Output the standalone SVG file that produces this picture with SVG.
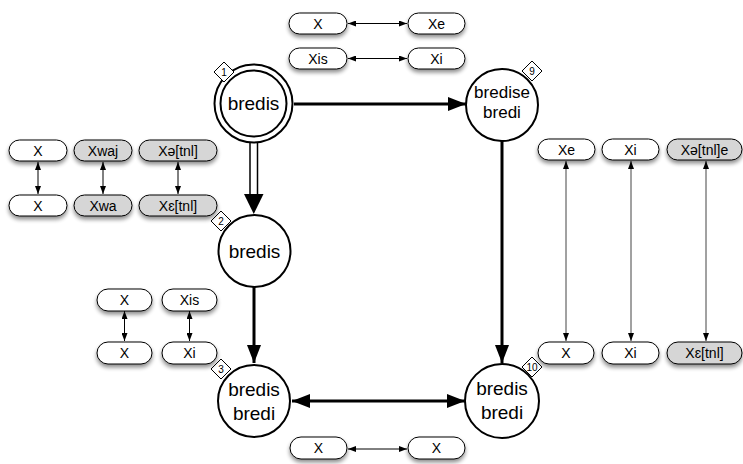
<svg xmlns="http://www.w3.org/2000/svg" width="743" height="464" viewBox="0 0 743 464">
<style>
.pill{stroke:#000;stroke-width:1;filter:url(#sh)}
.w{fill:#fff}
.g{fill:#d6d6d6}
.pt{font-family:"Liberation Sans",Arial,sans-serif;font-size:14px;text-anchor:middle;fill:#000}
.nt{font-family:"Liberation Sans",Arial,sans-serif;font-size:19px;text-anchor:middle;fill:#000}
.circ{fill:#fff;stroke:#000;stroke-width:2}
.dia{fill:#fff;stroke:#000;stroke-width:1}
.dt{font-family:"Liberation Sans",Arial,sans-serif;font-size:10px;text-anchor:middle;fill:#000}
.thin{stroke:#000;stroke-width:1;fill:none;marker-end:url(#ah);marker-start:url(#ah)}
.gthin{stroke:#444;stroke-width:1;fill:none;marker-end:url(#ah);marker-start:url(#ah)}
.thick{stroke:#000;stroke-width:3;fill:none;marker-end:url(#th)}
</style>
<defs>
<filter id="sh" x="-20%" y="-30%" width="140%" height="180%">
<feGaussianBlur in="SourceAlpha" stdDeviation="2"/>
<feOffset dx="0" dy="3" result="b"/>
<feComponentTransfer><feFuncA type="linear" slope="0.45"/></feComponentTransfer>
<feMerge><feMergeNode/><feMergeNode in="SourceGraphic"/></feMerge>
</filter>
<marker id="ah" viewBox="0 0 8 6" refX="8" refY="3" markerWidth="8" markerHeight="6" markerUnits="userSpaceOnUse" orient="auto-start-reverse"><path d="M0,0 L8,3 L0,6 z" fill="#000"/></marker>
<marker id="th" viewBox="0 0 18 14" refX="18" refY="7" markerWidth="18" markerHeight="14" markerUnits="userSpaceOnUse" orient="auto-start-reverse"><path d="M0,0 L18,7 L0,14 z" fill="#000"/></marker>
</defs>
<rect width="743" height="464" fill="#fff"/>

<g id="connectors">
<line class="thick" x1="294" y1="104" x2="466" y2="104"/>
<line x1="250" y1="143" x2="250" y2="195" stroke="#000" stroke-width="1.5"/>
<line x1="257.5" y1="143" x2="257.5" y2="195" stroke="#000" stroke-width="1.5"/>
<polygon points="244,194 263.5,194 253.75,214" fill="#000"/>
<line class="thick" x1="254" y1="287" x2="254" y2="363"/>
<line class="thick" x1="502" y1="141" x2="502" y2="363"/>
<line class="thick" x1="292" y1="401" x2="465" y2="401" marker-start="url(#th)"/>
<line class="thin" x1="348" y1="23.5" x2="407" y2="23.5"/>
<line class="thin" x1="348" y1="58.5" x2="407" y2="58.5"/>
<line class="thin" x1="348" y1="449" x2="407" y2="449"/>
<line class="thin" x1="38" y1="162" x2="38" y2="194"/>
<line class="thin" x1="103" y1="162" x2="103" y2="194"/>
<line class="thin" x1="178" y1="162" x2="178" y2="194"/>
<line class="thin" x1="124.5" y1="311" x2="124.5" y2="341"/>
<line class="thin" x1="189.5" y1="311" x2="189.5" y2="341"/>
<line class="gthin" x1="566" y1="161" x2="566" y2="341"/>
<line class="gthin" x1="631" y1="161" x2="631" y2="341"/>
<line class="gthin" x1="706" y1="161" x2="706" y2="341"/>
</g>

<g id="node1">
<circle class="circ" cx="253.5" cy="103.5" r="39"/>
<circle class="circ" cx="253.5" cy="103.5" r="33"/>
<text class="nt" x="253.5" y="110">bredis</text>
<polygon class="dia" points="224,62 234,72 224,82 214,72"/>
<text class="dt" x="224" y="76">1</text>
</g>
<g id="node2">
<circle class="circ" cx="254.5" cy="251" r="36"/>
<text class="nt" x="254.5" y="258">bredis</text>
<polygon class="dia" points="221,211 231,221 221,231 211,221"/>
<text class="dt" x="221" y="225">2</text>
</g>
<g id="node3">
<circle class="circ" cx="254" cy="401" r="36"/>
<text class="nt" x="254" y="396">bredis</text>
<text class="nt" x="254" y="420">bredi</text>
<polygon class="dia" points="221,359 231,369 221,379 211,369"/>
<text class="dt" x="221" y="373">3</text>
</g>
<g id="node9">
<circle class="circ" cx="502" cy="105" r="36"/>
<text class="nt" x="502" y="98" style="font-size:17px">bredise</text>
<text class="nt" x="502" y="118" style="font-size:17px">bredi</text>
<polygon class="dia" points="532,61 542,71 532,81 522,71"/>
<text class="dt" x="532" y="75">9</text>
</g>
<g id="node10">
<circle class="circ" cx="502" cy="401" r="37"/>
<text class="nt" x="502" y="395">bredis</text>
<text class="nt" x="502" y="419">bredi</text>
<polygon class="dia" points="532,357 542,367 532,377 522,367"/>
<text class="dt" x="532" y="371">10</text>
</g>

<g id="pill-top-X"><rect class="pill w" x="289" y="13" width="58" height="21" rx="10.5"/><text class="pt" x="318" y="28.5">X</text></g>
<g id="pill-top-Xe"><rect class="pill w" x="408" y="13" width="57" height="21" rx="10.5"/><text class="pt" x="436.5" y="28.5">Xe</text></g>
<g id="pill-top-Xis"><rect class="pill w" x="289" y="48" width="58" height="21" rx="10.5"/><text class="pt" x="318" y="63.5">Xis</text></g>
<g id="pill-top-Xi"><rect class="pill w" x="408" y="48" width="57" height="21" rx="10.5"/><text class="pt" x="436.5" y="63.5">Xi</text></g>

<g id="pill-l-X1"><rect class="pill w" x="9" y="140" width="58" height="21" rx="10.5"/><text class="pt" x="38" y="155.5">X</text></g>
<g id="pill-l-Xwaj"><rect class="pill g" x="74" y="140" width="58" height="21" rx="10.5"/><text class="pt" x="103" y="155.5">Xwaj</text></g>
<g id="pill-l-Xschwa"><rect class="pill g" x="139" y="140" width="78" height="21" rx="10.5"/><text class="pt" x="178" y="155.5">Xə[tnl]</text></g>
<g id="pill-l-X2"><rect class="pill w" x="9" y="195" width="58" height="21" rx="10.5"/><text class="pt" x="38" y="210.5">X</text></g>
<g id="pill-l-Xwa"><rect class="pill g" x="74" y="195" width="58" height="21" rx="10.5"/><text class="pt" x="103" y="210.5">Xwa</text></g>
<g id="pill-l-Xeps"><rect class="pill g" x="139" y="195" width="78" height="21" rx="10.5"/><text class="pt" x="178" y="210.5">Xɛ[tnl]</text></g>

<g id="pill-m-X1"><rect class="pill w" x="97" y="289" width="55" height="22" rx="11"/><text class="pt" x="124.5" y="305">X</text></g>
<g id="pill-m-Xis"><rect class="pill w" x="162" y="289" width="55" height="22" rx="11"/><text class="pt" x="189.5" y="305">Xis</text></g>
<g id="pill-m-X2"><rect class="pill w" x="97" y="342" width="55" height="22" rx="11"/><text class="pt" x="124.5" y="358">X</text></g>
<g id="pill-m-Xi"><rect class="pill w" x="162" y="342" width="55" height="22" rx="11"/><text class="pt" x="189.5" y="358">Xi</text></g>

<g id="pill-r-Xe"><rect class="pill w" x="538" y="139" width="57" height="21" rx="10.5"/><text class="pt" x="566.5" y="154.5">Xe</text></g>
<g id="pill-r-Xi1"><rect class="pill w" x="602" y="139" width="57" height="21" rx="10.5"/><text class="pt" x="630.5" y="154.5">Xi</text></g>
<g id="pill-r-Xschwae"><rect class="pill g" x="667" y="139" width="75" height="21" rx="10.5"/><text class="pt" x="704.5" y="154.5">Xə[tnl]e</text></g>
<g id="pill-r-X"><rect class="pill w" x="538" y="342" width="56" height="22" rx="11"/><text class="pt" x="566" y="358">X</text></g>
<g id="pill-r-Xi2"><rect class="pill w" x="602" y="342" width="57" height="22" rx="11"/><text class="pt" x="630.5" y="358">Xi</text></g>
<g id="pill-r-Xeps"><rect class="pill g" x="667" y="342" width="75" height="22" rx="11"/><text class="pt" x="704.5" y="358">Xɛ[tnl]</text></g>

<g id="pill-b-X1"><rect class="pill w" x="290" y="437" width="57" height="22" rx="11"/><text class="pt" x="318.5" y="453">X</text></g>
<g id="pill-b-X2"><rect class="pill w" x="408" y="437" width="57" height="22" rx="11"/><text class="pt" x="436.5" y="453">X</text></g>
</svg>
